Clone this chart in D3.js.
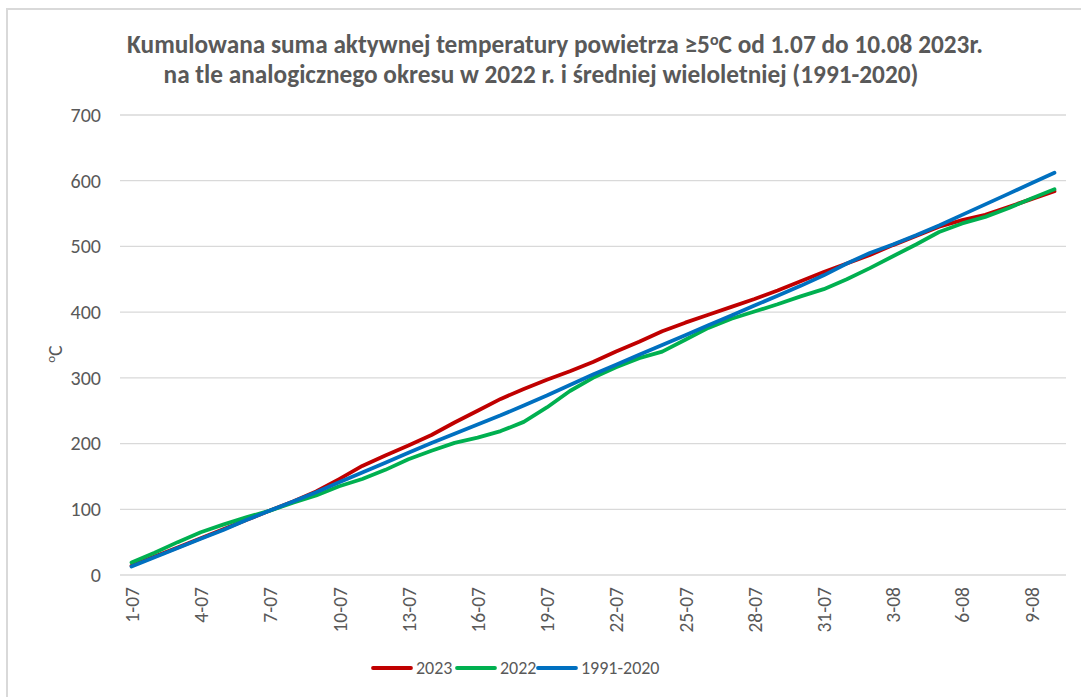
<!DOCTYPE html>
<html>
<head>
<meta charset="utf-8">
<script src="https://cdn.jsdelivr.net/npm/d3@7"></script>
<style>
  body { margin: 0; background: #fff; }
  svg text { font-family: Carlito, "Liberation Sans Narrow", "Open Sans", sans-serif; fill: #595959; }
</style>
</head>
<body>
<svg id="chart" width="1081" height="697"></svg>
<script>
// days 1-07 .. 10-08
const days = [];
for (let d = 1; d <= 31; d++) days.push(d + "-07");
for (let d = 1; d <= 10; d++) days.push(d + "-08");

const tickDays = ["1-07","4-07","7-07","10-07","13-07","16-07","19-07","22-07","25-07","28-07","31-07","3-08","6-08","9-08"];
const yTicks = [0, 100, 200, 300, 400, 500, 600, 700];

const values2023 = [14, 28, 42, 56, 70, 84, 98, 112, 127, 146, 166, 182, 197, 213, 232, 250, 268, 283, 297, 310,
  324, 340, 355, 371, 384, 396, 408, 420, 433, 447, 461, 474, 487, 502, 516, 530, 540, 548, 560, 572, 584];
const values2022 = [19, 34, 50, 65, 77, 88, 98, 110, 121, 135, 146, 160, 176, 189, 201, 209, 219, 233, 255, 280,
  300, 316, 330, 340, 358, 376, 390, 401, 412, 424, 435, 450, 467, 485, 503, 522, 535, 545, 558, 573, 587];
const valuesNorm = [13, 27, 41, 55, 69, 84, 98, 112, 126, 141, 156, 171, 186, 201, 215, 229, 243, 258, 273, 289,
  305, 320, 335, 350, 365, 380, 395, 410, 425, 440, 456, 474, 490, 503, 517, 532, 548, 564, 580, 596, 612];

const series = [
  { name: "2023", color: "#C00000", values: values2023 },
  { name: "2022", color: "#00B050", values: values2022 },
  { name: "1991-2020", color: "#0070C0", values: valuesNorm }
];

const svg = d3.select("#chart");
const plot = { left: 120, right: 1066, top: 115, bottom: 575 };

// frame
svg.append("path")
  .attr("d", "M7,1000 V9 H1081")
  .attr("fill", "none")
  .attr("stroke", "#d9d9d9")
  .attr("stroke-width", 2);

// title
const title = svg.append("text")
  .attr("text-anchor", "middle")
  .style("font-weight", "bold")
  .style("font-size", "25.3px");
const t1 = title.append("tspan").attr("x", 555).attr("y", 53);
t1.append("tspan").text("Kumulowana suma aktywnej temperatury powietrza ≥5");
t1.append("tspan").text("o").attr("dy", -8).style("font-size", "16px");
t1.append("tspan").text("C od 1.07 do 10.08 2023r.").attr("dy", 8);
title.append("tspan").attr("x", 541).attr("y", 83)
  .text("na tle analogicznego okresu w 2022 r. i średniej wieloletniej (1991-2020)");

const x = d3.scalePoint()
  .domain(days)
  .range([plot.left, plot.right])
  .padding(0.5);

const y = d3.scaleLinear()
  .domain([0, 700])
  .range([plot.bottom, plot.top]);

// grid
svg.append("g")
  .selectAll("line")
  .data(yTicks)
  .join("line")
    .attr("x1", plot.left)
    .attr("x2", plot.right)
    .attr("y1", d => y(d))
    .attr("y2", d => y(d))
    .attr("stroke", "#d9d9d9")
    .attr("stroke-width", 1.3);

// y axis
const yAxis = svg.append("g")
  .attr("transform", "translate(" + plot.left + ",0)")
  .call(d3.axisLeft(y).tickValues(yTicks).tickSize(0).tickPadding(19));
yAxis.select(".domain").remove();
yAxis.selectAll("text").style("font-size", "20px");

// y axis title
const yt = svg.append("text")
  .attr("transform", "translate(62,354) rotate(-90)")
  .attr("text-anchor", "middle")
  .style("font-size", "20px");
yt.append("tspan").text("o").attr("dy", -7).style("font-size", "13px");
yt.append("tspan").text("C").attr("dy", 7);

// x axis
const xAxis = svg.append("g")
  .attr("transform", "translate(0," + plot.bottom + ")")
  .call(d3.axisBottom(x).tickValues(tickDays).tickSize(0).tickPadding(0));
xAxis.select(".domain").remove();
xAxis.selectAll("text")
  .style("font-size", "19.5px")
  .attr("text-anchor", "end")
  .attr("transform", "rotate(-90)")
  .attr("x", -12)
  .attr("y", 0)
  .attr("dy", "0.35em");

// lines
const line = d3.line()
  .x((d, i) => x(days[i]))
  .y(d => y(d));

svg.append("g")
  .selectAll("path")
  .data(series)
  .join("path")
    .attr("d", d => line(d.values))
    .attr("fill", "none")
    .attr("stroke", d => d.color)
    .attr("stroke-width", 3.8)
    .attr("stroke-linejoin", "round")
    .attr("stroke-linecap", "round");

// legend
const legendX = [373, 457, 538];
const legend = svg.append("g")
  .selectAll("g")
  .data(series)
  .join("g")
    .attr("transform", (d, i) => "translate(" + legendX[i] + ",668)");
legend.append("line")
  .attr("x1", 0).attr("x2", 38)
  .attr("stroke", d => d.color)
  .attr("stroke-width", 3.8)
  .attr("stroke-linecap", "round");
legend.append("text")
  .attr("x", 43)
  .attr("dy", "0.35em")
  .style("font-size", "18px")
  .text(d => d.name);
</script>
</body>
</html>
